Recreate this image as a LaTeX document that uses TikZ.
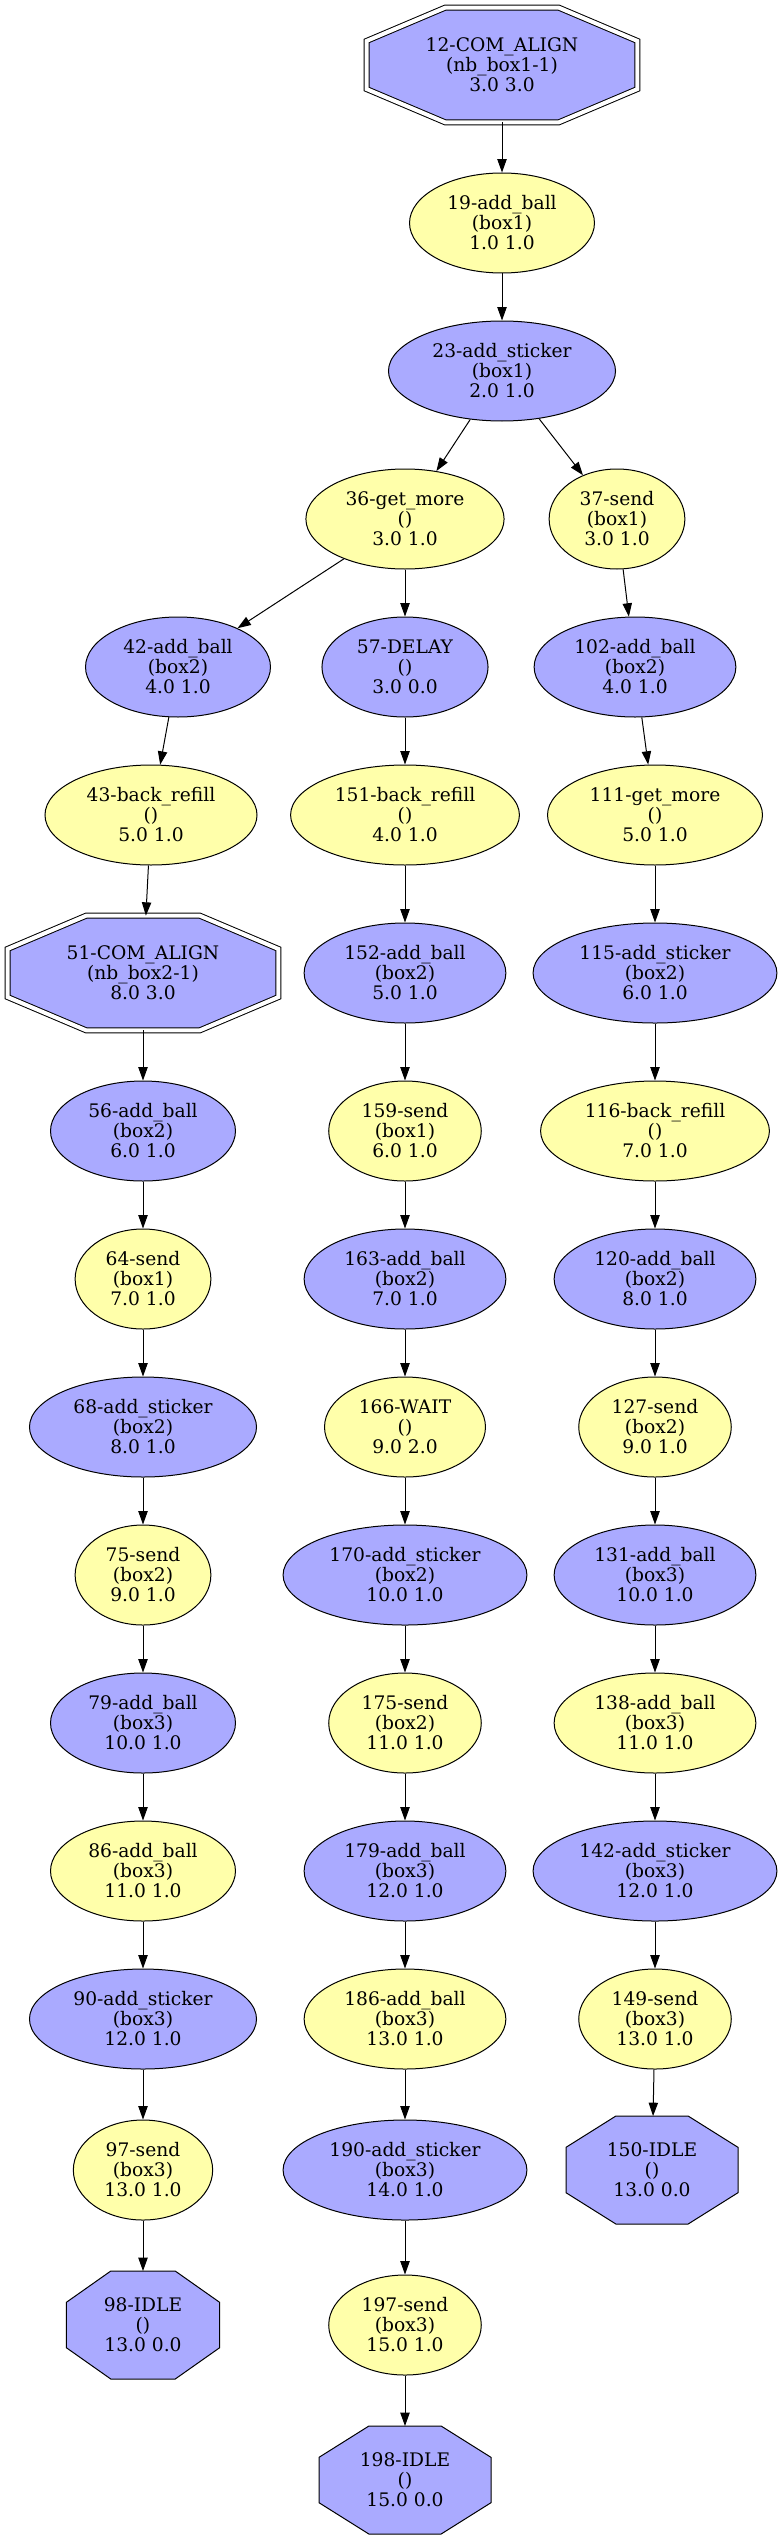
\documentclass[tikz,border=0pt]{standalone}
\usepackage{fontspec}
\setmainfont{DejaVu Serif}
\usepackage{tikz}
\usetikzlibrary{arrows.meta,positioning,shapes,calc,backgrounds}
\definecolor{nodeblue}{HTML}{AAAAFF}
\definecolor{nodeyellow}{HTML}{FFFFAA}
\newcommand{\octagonpath}[1]{($(#1.north west)!0.29!(#1.north east)$) -- ($(#1.north west)!0.71!(#1.north east)$)
  -- ($(#1.north east)!0.29!(#1.south east)$) -- ($(#1.north east)!0.71!(#1.south east)$)
  -- ($(#1.south east)!0.29!(#1.south west)$) -- ($(#1.south east)!0.71!(#1.south west)$)
  -- ($(#1.south west)!0.29!(#1.north west)$) -- ($(#1.south west)!0.71!(#1.north west)$) -- cycle}
\begin{document}
\begin{tikzpicture}[
  x=0.75pt, y=-0.75pt, line width=0.75pt,
  every node/.style={font=\fontsize{14pt}{15pt}\selectfont, align=center},
  state/.style={ellipse, draw, inner xsep=8pt, inner ysep=2pt, minimum height=75pt},
  bluestate/.style={state, fill=nodeblue},
  yellowstate/.style={state, fill=nodeyellow},
  idle/.style={rectangle, inner sep=0pt, outer sep=0pt, minimum width=#1, minimum height=81pt},
  comalign/.style={rectangle, inner sep=0pt, outer sep=0pt, minimum width=203pt, minimum height=86pt},
  octagon/.style={draw=black, line width=0.75pt, fill=nodeblue},
  double octagon/.style={octagon, double=white, double distance=3pt},
  >={Triangle[length=10pt,width=7pt]}
]
\useasboundingbox (0,0) rectangle (780,2540);
\node[comalign] (n12) at (502,65) {12-COM\_ALIGN\\(nb\_box1-1)\\3.0 3.0};
\node[yellowstate] (n19) at (502,223) {19-add\_ball\\(box1)\\1.0 1.0};
\node[bluestate] (n23) at (502,371) {23-add\_sticker\\(box1)\\2.0 1.0};
\node[yellowstate] (n36) at (405,519) {36-get\_more\\()\\3.0 1.0};
\node[yellowstate] (n37) at (617,519) {37-send\\(box1)\\3.0 1.0};
\node[bluestate] (n42) at (178,667) {42-add\_ball\\(box2)\\4.0 1.0};
\node[bluestate] (n57) at (405,667) {57-DELAY\\()\\3.0 0.0};
\node[bluestate] (n102) at (635,667) {102-add\_ball\\(box2)\\4.0 1.0};
\node[yellowstate] (n43) at (151,815) {43-back\_refill\\()\\5.0 1.0};
\node[yellowstate] (n151) at (405,815) {151-back\_refill\\()\\4.0 1.0};
\node[yellowstate] (n111) at (655,815) {111-get\_more\\()\\5.0 1.0};
\node[comalign] (n51) at (143,973) {51-COM\_ALIGN\\(nb\_box2-1)\\8.0 3.0};
\node[bluestate] (n152) at (405,973) {152-add\_ball\\(box2)\\5.0 1.0};
\node[bluestate] (n115) at (655,973) {115-add\_sticker\\(box2)\\6.0 1.0};
\node[bluestate] (n56) at (143,1131) {56-add\_ball\\(box2)\\6.0 1.0};
\node[yellowstate] (n159) at (405,1131) {159-send\\(box1)\\6.0 1.0};
\node[yellowstate] (n116) at (655,1131) {116-back\_refill\\()\\7.0 1.0};
\node[yellowstate] (n64) at (143,1279) {64-send\\(box1)\\7.0 1.0};
\node[bluestate] (n163) at (405,1279) {163-add\_ball\\(box2)\\7.0 1.0};
\node[bluestate] (n120) at (655,1279) {120-add\_ball\\(box2)\\8.0 1.0};
\node[bluestate] (n68) at (143,1427) {68-add\_sticker\\(box2)\\8.0 1.0};
\node[yellowstate] (n166) at (405,1427) {166-WAIT\\()\\9.0 2.0};
\node[yellowstate] (n127) at (655,1427) {127-send\\(box2)\\9.0 1.0};
\node[yellowstate] (n75) at (143,1575) {75-send\\(box2)\\9.0 1.0};
\node[bluestate] (n170) at (405,1575) {170-add\_sticker\\(box2)\\10.0 1.0};
\node[bluestate] (n131) at (655,1575) {131-add\_ball\\(box3)\\10.0 1.0};
\node[bluestate] (n79) at (143,1723) {79-add\_ball\\(box3)\\10.0 1.0};
\node[yellowstate] (n175) at (405,1723) {175-send\\(box2)\\11.0 1.0};
\node[yellowstate] (n138) at (655,1723) {138-add\_ball\\(box3)\\11.0 1.0};
\node[yellowstate] (n86) at (143,1871) {86-add\_ball\\(box3)\\11.0 1.0};
\node[bluestate] (n179) at (405,1871) {179-add\_ball\\(box3)\\12.0 1.0};
\node[bluestate] (n142) at (655,1871) {142-add\_sticker\\(box3)\\12.0 1.0};
\node[bluestate] (n90) at (143,2019) {90-add\_sticker\\(box3)\\12.0 1.0};
\node[yellowstate] (n186) at (405,2019) {186-add\_ball\\(box3)\\13.0 1.0};
\node[yellowstate] (n149) at (655,2019) {149-send\\(box3)\\13.0 1.0};
\node[yellowstate] (n97) at (143,2170) {97-send\\(box3)\\13.0 1.0};
\node[bluestate] (n190) at (405,2170) {190-add\_sticker\\(box3)\\14.0 1.0};
\node[idle=129pt] (n150) at (652,2170) {150-IDLE\\()\\13.0 0.0};
\node[idle=115pt] (n98) at (143,2325) {98-IDLE\\()\\13.0 0.0};
\node[yellowstate] (n197) at (405,2325) {197-send\\(box3)\\15.0 1.0};
\node[idle=129pt] (n198) at (405,2480) {198-IDLE\\()\\15.0 0.0};
\begin{scope}[on background layer]
\draw[double octagon] \octagonpath{n12};
\draw[double octagon] \octagonpath{n51};
\draw[octagon] \octagonpath{n150};
\draw[octagon] \octagonpath{n98};
\draw[octagon] \octagonpath{n198};
\end{scope}
\draw[->] (n12) -- (n19);
\draw[->] (n19) -- (n23);
\draw[->] (n23) -- (n36);
\draw[->] (n23) -- (n37);
\draw[->] (n36) -- (n42);
\draw[->] (n36) -- (n57);
\draw[->] (n37) -- (n102);
\draw[->] (n42) -- (n43);
\draw[->] (n43) -- (n51);
\draw[->] (n51) -- (n56);
\draw[->] (n56) -- (n64);
\draw[->] (n64) -- (n68);
\draw[->] (n68) -- (n75);
\draw[->] (n75) -- (n79);
\draw[->] (n79) -- (n86);
\draw[->] (n86) -- (n90);
\draw[->] (n90) -- (n97);
\draw[->] (n97) -- (n98);
\draw[->] (n57) -- (n151);
\draw[->] (n151) -- (n152);
\draw[->] (n152) -- (n159);
\draw[->] (n159) -- (n163);
\draw[->] (n163) -- (n166);
\draw[->] (n166) -- (n170);
\draw[->] (n170) -- (n175);
\draw[->] (n175) -- (n179);
\draw[->] (n179) -- (n186);
\draw[->] (n186) -- (n190);
\draw[->] (n190) -- (n197);
\draw[->] (n197) -- (n198);
\draw[->] (n102) -- (n111);
\draw[->] (n111) -- (n115);
\draw[->] (n115) -- (n116);
\draw[->] (n116) -- (n120);
\draw[->] (n120) -- (n127);
\draw[->] (n127) -- (n131);
\draw[->] (n131) -- (n138);
\draw[->] (n138) -- (n142);
\draw[->] (n142) -- (n149);
\draw[->] (n149) -- (n150);
\end{tikzpicture}
\end{document}
